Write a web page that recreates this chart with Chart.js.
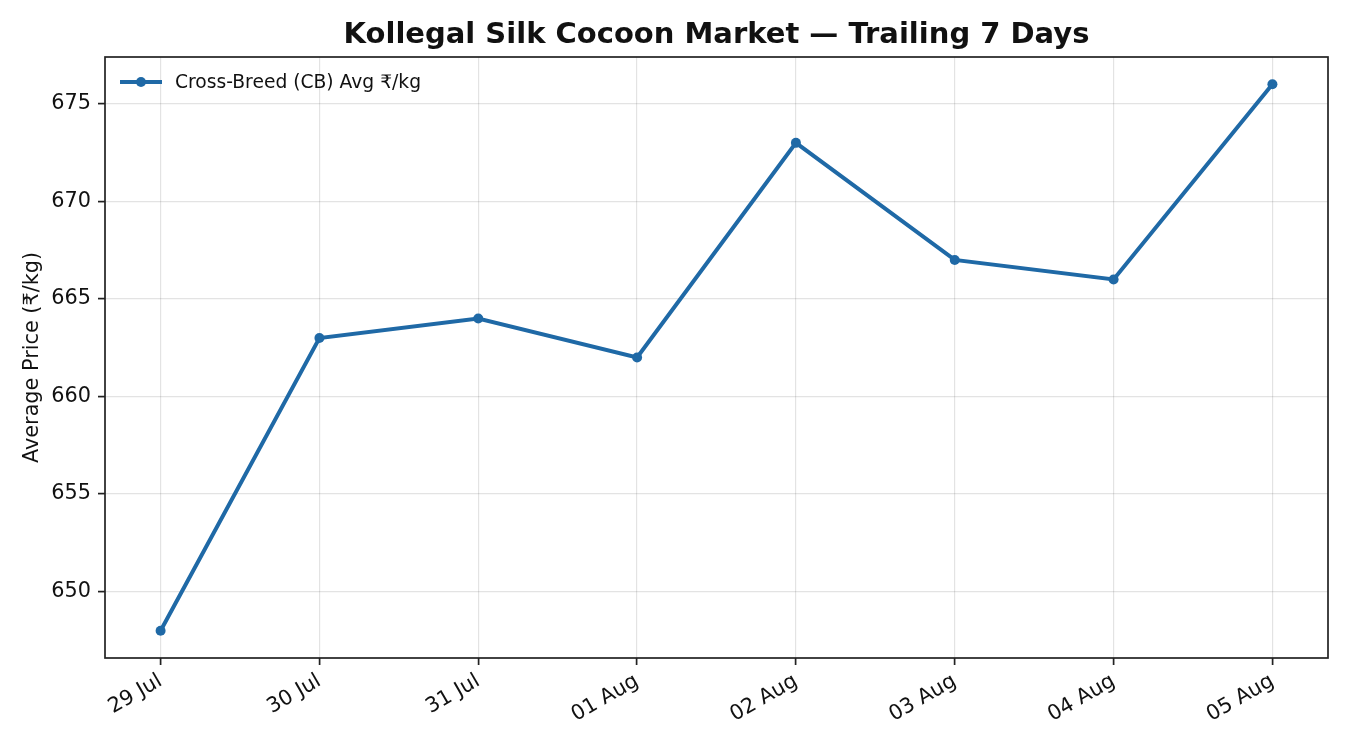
<!DOCTYPE html>
<html>
<head>
<meta charset="utf-8">
<script src="https://cdn.jsdelivr.net/npm/chart.js@4"></script>
<style>
  html, body { margin: 0; padding: 0; background: #fff; }
  #wrap { width: 1350px; height: 750px; }
</style>
</head>
<body>
<div id="wrap"><canvas id="priceChart" width="1350" height="750"></canvas></div>
<script>
const days = ['29 Jul', '30 Jul', '31 Jul', '01 Aug', '02 Aug', '03 Aug', '04 Aug', '05 Aug'];
const cbAvg = [648, 663, 664, 662, 673, 667, 666, 676];
const yTicks = [650, 655, 660, 665, 670, 675];

const FONT = "'DejaVu Sans', sans-serif";
const BLUE = '#1f69a6';

// title, frame and in-plot legend, drawn like matplotlib does
const extras = {
    id: 'extras',
    afterDatasetsDraw(chart) {
        const { ctx, chartArea: a } = chart;
        ctx.save();
        ctx.strokeStyle = '#222';
        ctx.lineWidth = 1.7;
        ctx.strokeRect(a.left, a.top, a.right - a.left, a.bottom - a.top);

        // legend
        const ds = chart.data.datasets[0];
        const lx = a.left + 15, ly = a.top + 25;
        ctx.strokeStyle = ds.borderColor;
        ctx.lineWidth = 4;
        ctx.beginPath();
        ctx.moveTo(lx, ly);
        ctx.lineTo(lx + 42, ly);
        ctx.stroke();
        ctx.fillStyle = ds.borderColor;
        ctx.beginPath();
        ctx.arc(lx + 21, ly, 5, 0, Math.PI * 2);
        ctx.fill();
        ctx.fillStyle = '#111';
        ctx.font = '18.7px ' + FONT;
        ctx.textBaseline = 'middle';
        ctx.fillText(ds.label, lx + 55, ly + 1);

        // title
        ctx.font = 'bold 29px ' + FONT;
        ctx.textAlign = 'center';
        ctx.textBaseline = 'middle';
        ctx.fillText('Kollegal Silk Cocoon Market \u2014 Trailing 7 Days', (a.left + a.right) / 2, 35);
        ctx.restore();
    }
};

const ctx = document.getElementById('priceChart').getContext('2d');
const chart = new Chart(ctx, {
    type: 'line',
    data: {
        datasets: [{
            label: 'Cross-Breed (CB) Avg \u20b9/kg',
            data: cbAvg.map((v, i) => ({ x: i, y: v })),
            borderColor: BLUE,
            backgroundColor: BLUE,
            borderWidth: 4,
            pointRadius: 5,
            pointHoverRadius: 5,
            pointBorderWidth: 0,
            tension: 0
        }]
    },
    options: {
        responsive: false,
        animation: false,
        devicePixelRatio: 1,
        layout: { padding: { top: 57, right: 22, left: 0, bottom: 0 } },
        plugins: {
            legend: { display: false },
            title: { display: false },
            tooltip: { enabled: false }
        },
        scales: {
            x: {
                type: 'linear',
                min: -0.35,
                max: 7.35,
                afterBuildTicks: s => { s.ticks = days.map((d, i) => ({ value: i })); },
                afterFit: s => { s.height = 92; },
                ticks: {
                    callback: v => days[v],
                    maxRotation: 30,
                    minRotation: 30,
                    color: '#111',
                    font: { family: FONT, size: 20.8 },
                    padding: 4
                },
                grid: { color: 'rgba(0,0,0,0.11)', tickColor: '#222', tickLength: 7, lineWidth: 1.2, tickWidth: 1.7 },
                border: { display: false }
            },
            y: {
                min: 646.6,
                max: 677.4,
                afterBuildTicks: s => { s.ticks = yTicks.map(v => ({ value: v })); },
                afterFit: s => { s.width = 105; },
                ticks: {
                    color: '#111',
                    font: { family: FONT, size: 20.8 },
                    padding: 7
                },
                title: {
                    display: true,
                    text: 'Average Price (\u20b9/kg)',
                    color: '#111',
                    font: { family: FONT, size: 20.8 },
                    padding: { top: 20, bottom: 0 }
                },
                grid: { color: 'rgba(0,0,0,0.11)', tickColor: '#222', tickLength: 7, lineWidth: 1.2, tickWidth: 1.7 },
                border: { display: false }
            }
        }
    },
    plugins: [extras]
});
</script>
</body>
</html>
